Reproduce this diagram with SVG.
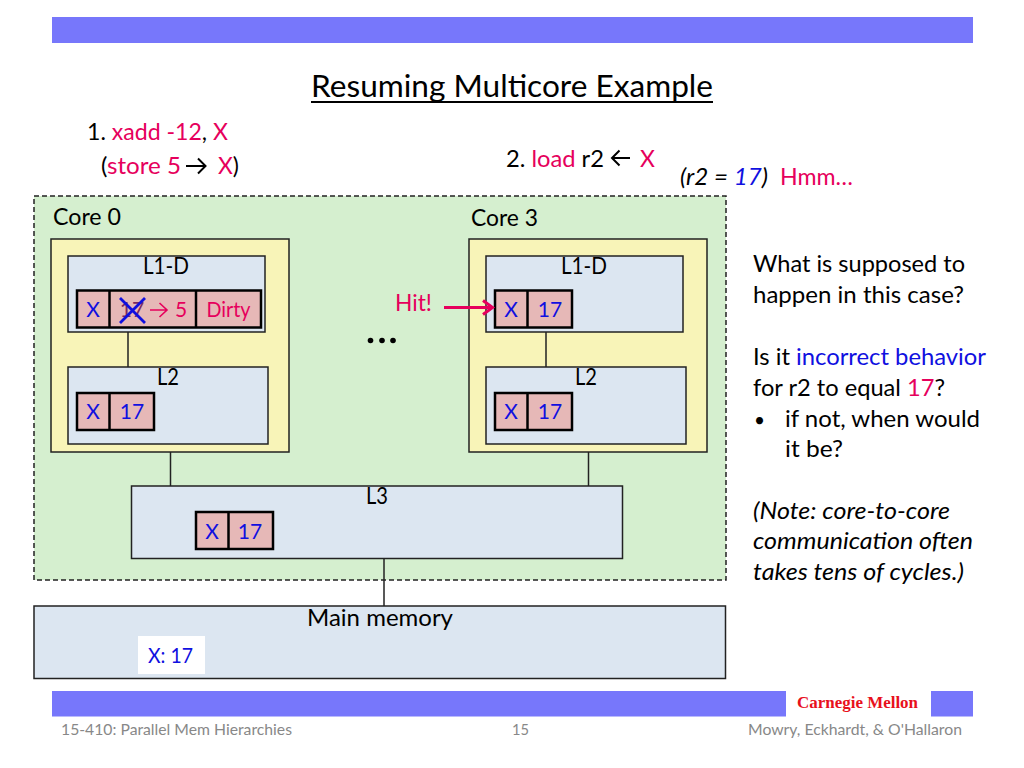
<svg xmlns="http://www.w3.org/2000/svg" width="1024" height="768" viewBox="0 0 1024 768">
<style>
text{font-family:Lato,"Open Sans",sans-serif;font-size:23px;fill:#000}
.p{fill:#e6005c}.b{fill:#1010e0}
.box{fill:#dce6f1;stroke:#222;stroke-width:1.5}
.core{fill:#f8f4b8;stroke:#222;stroke-width:1.5}
.cell{fill:#e6b8b7;stroke:#000;stroke-width:2.5}
.c{font-size:21px;text-anchor:middle}
.m{text-anchor:middle}
.ln{stroke:#222;stroke-width:1.5;fill:none}
.ar{fill:none;stroke:#000;stroke-width:2}
.foot{font-size:15px;fill:#888}
</style>
<g id="bars">
<rect x="52" y="17" width="921" height="26" fill="#7777fb"/>
<rect x="52" y="691" width="734" height="25.500" fill="#7777fb"/>
<rect x="931" y="691" width="42" height="25.500" fill="#7777fb"/>
</g>
<g id="title">
<text x="512" y="97" class="m" style="font-size:31.500px" textLength="402" lengthAdjust="spacingAndGlyphs">Resuming Multicore Example</text>
<line x1="311" y1="102" x2="713" y2="102" stroke="#000" stroke-width="2"/>
</g>
<g id="instructions">
<text x="87" y="140" textLength="141" lengthAdjust="spacingAndGlyphs">1. <tspan class="p">xadd -12</tspan>, <tspan class="p">X</tspan></text>
<text x="101" y="174" textLength="80" lengthAdjust="spacingAndGlyphs">(<tspan class="p">store 5</tspan></text>
<path class="ar" d="M186 166H205M198 158.500L205.500 166L198 173.500"/>
<text x="218" y="174" textLength="21" lengthAdjust="spacingAndGlyphs"><tspan class="p">X</tspan>)</text>
<text x="506" y="167" textLength="98" lengthAdjust="spacingAndGlyphs">2. <tspan class="p">load</tspan> r2</text>
<path class="ar" d="M612 158H630M619.500 150.500L612 158L619.500 165.500"/>
<text x="640" y="167" class="p">X</text>
<text x="680" y="185" textLength="88" lengthAdjust="spacingAndGlyphs" style="font-style:italic">(r2 = <tspan class="b">17</tspan>)</text>
<text x="780" y="185" class="p" textLength="73" lengthAdjust="spacingAndGlyphs">Hmm…</text>
</g>
<g id="package">
<rect x="34" y="196" width="692" height="384" fill="#d5efcf" stroke="#222" stroke-width="1.5" stroke-dasharray="5 3"/>
<text x="53" y="225" textLength="68" lengthAdjust="spacingAndGlyphs">Core 0</text>
<text x="471" y="226" textLength="67" lengthAdjust="spacingAndGlyphs">Core 3</text>
</g>
<g id="connectors">
<line class="ln" x1="170.500" y1="452" x2="170.500" y2="486"/>
<line class="ln" x1="588.500" y1="452" x2="588.500" y2="486"/>
<line class="ln" x1="384" y1="558" x2="384" y2="606"/>
</g>
<g id="core0">
<rect class="core" x="51" y="239" width="238" height="213"/>
<g id="c0-l1">
<rect class="box" x="68" y="256" width="197" height="76"/>
<text x="166" y="274" class="m" textLength="46" lengthAdjust="spacingAndGlyphs">L1-D</text>
<rect class="cell" x="77" y="290.500" width="184" height="37"/>
<line x1="109.500" y1="290.500" x2="109.500" y2="327.500" stroke="#000" stroke-width="2.500"/>
<line x1="196" y1="290.500" x2="196" y2="327.500" stroke="#000" stroke-width="2.500"/>
<text x="93" y="317" class="c b">X</text>
<text x="132" y="317" class="c" style="fill:#7a2a60">17</text>
<path d="M120 298L145 323M145 298L120 323" stroke="#1010e0" stroke-width="2.800" fill="none"/>
<path d="M150 310H166M159.500 303L167 310L159.500 317" stroke="#e6005c" stroke-width="1.600" fill="none"/>
<text x="181" y="317" class="c p">5</text>
<text x="228.500" y="317" class="c p" textLength="44" lengthAdjust="spacingAndGlyphs">Dirty</text>
</g>
<line class="ln" x1="128" y1="332" x2="128" y2="370"/>
<g id="c0-l2">
<rect class="box" x="68" y="367" width="200" height="77"/>
<text x="168" y="385" class="m" textLength="22" lengthAdjust="spacingAndGlyphs">L2</text>
<rect class="cell" x="77" y="393" width="77" height="37"/>
<line x1="109.500" y1="393" x2="109.500" y2="430" stroke="#000" stroke-width="2.500"/>
<text x="93" y="419" class="c b">X</text>
<text x="132" y="419" class="c b">17</text>
</g>
</g>
<g id="core3">
<rect class="core" x="469" y="239" width="238" height="213"/>
<g id="c3-l1">
<rect class="box" x="486" y="256" width="197" height="76"/>
<text x="584" y="274" class="m" textLength="46" lengthAdjust="spacingAndGlyphs">L1-D</text>
<rect class="cell" x="495" y="290.500" width="77" height="37"/>
<line x1="527.500" y1="290.500" x2="527.500" y2="327.500" stroke="#000" stroke-width="2.500"/>
<text x="511" y="317" class="c b">X</text>
<text x="550" y="317" class="c b">17</text>
</g>
<line class="ln" x1="546" y1="332" x2="546" y2="367"/>
<g id="c3-l2">
<rect class="box" x="486" y="367" width="200" height="77"/>
<text x="586" y="385" class="m" textLength="22" lengthAdjust="spacingAndGlyphs">L2</text>
<rect class="cell" x="495" y="393" width="77" height="37"/>
<line x1="527.500" y1="393" x2="527.500" y2="430" stroke="#000" stroke-width="2.500"/>
<text x="511" y="419" class="c b">X</text>
<text x="550" y="419" class="c b">17</text>
</g>
</g>
<g id="hit">
<text x="395" y="311" class="p" textLength="37" lengthAdjust="spacingAndGlyphs">Hit!</text>
<path d="M444 307.500H490M483 300.500L492.500 307.500L483 314.500" stroke="#e6005c" stroke-width="3" fill="none"/>
</g>
<g id="dots"><circle cx="370.500" cy="340.500" r="2.800"/><circle cx="382" cy="340.500" r="2.800"/><circle cx="393" cy="340.500" r="2.800"/></g>
<g id="l3">
<rect class="box" x="131.500" y="486" width="491" height="72.500"/>
<text x="377" y="504" class="m" textLength="22" lengthAdjust="spacingAndGlyphs">L3</text>
<rect class="cell" x="196" y="512" width="77" height="37"/>
<line x1="228.500" y1="512" x2="228.500" y2="549" stroke="#000" stroke-width="2.500"/>
<text x="212" y="539" class="c b">X</text>
<text x="250" y="539" class="c b">17</text>
</g>
<g id="memory">
<rect class="box" x="34" y="606" width="691.500" height="72.500"/>
<text x="380" y="626" class="m" textLength="146" lengthAdjust="spacingAndGlyphs">Main memory</text>
<rect x="138" y="636" width="67" height="38" fill="#fff"/>
<text x="148" y="663" class="b" style="font-size:21px" textLength="45" lengthAdjust="spacingAndGlyphs">X: 17</text>
</g>
<g id="notes">
<text x="753" y="272" textLength="212" lengthAdjust="spacingAndGlyphs">What is supposed to</text>
<text x="753" y="303" textLength="211" lengthAdjust="spacingAndGlyphs">happen in this case?</text>
<text x="753" y="365" textLength="233" lengthAdjust="spacingAndGlyphs">Is it <tspan class="b">incorrect behavior</tspan></text>
<text x="753" y="396" textLength="192" lengthAdjust="spacingAndGlyphs">for r2 to equal <tspan class="p">17</tspan>?</text>
<text x="754" y="427" style="font-size:19px">•</text>
<text x="785" y="427" textLength="195" lengthAdjust="spacingAndGlyphs">if not, when would</text>
<text x="785" y="457" textLength="58" lengthAdjust="spacingAndGlyphs">it be?</text>
<text x="753" y="519" textLength="197" lengthAdjust="spacingAndGlyphs" style="font-style:italic">(Note: core-to-core</text>
<text x="753" y="549" textLength="220" lengthAdjust="spacingAndGlyphs" style="font-style:italic">communication often</text>
<text x="753" y="580" textLength="211" lengthAdjust="spacingAndGlyphs" style="font-style:italic">takes tens of cycles.)</text>
</g>
<g id="footer">
<text x="797" y="708" style="font-family:'Liberation Serif',serif;font-size:16px;font-weight:bold;fill:#e8101c" textLength="121" lengthAdjust="spacingAndGlyphs">Carnegie Mellon</text>
<text x="61" y="735" class="foot" textLength="231" lengthAdjust="spacingAndGlyphs">15-410: Parallel Mem Hierarchies</text>
<text x="512" y="735" class="foot" textLength="17" lengthAdjust="spacingAndGlyphs">15</text>
<text x="748" y="735" class="foot" textLength="214" lengthAdjust="spacingAndGlyphs">Mowry, Eckhardt, &amp; O'Hallaron</text>
</g>
</svg>
